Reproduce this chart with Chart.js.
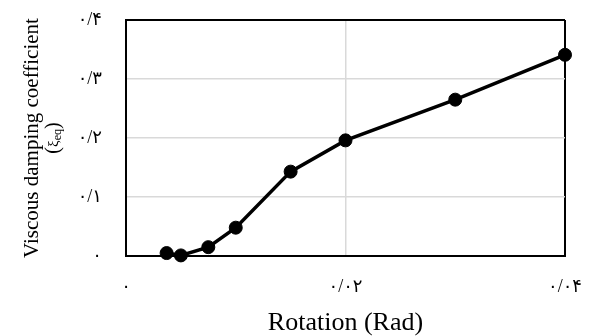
<!DOCTYPE html>
<html>
<head>
<meta charset="utf-8">
<script src="https://cdn.jsdelivr.net/npm/chart.js@4"></script>
<style>
html,body{margin:0;padding:0;background:#fff;}
#wrap{width:593px;height:336px;position:relative;}
</style>
</head>
<body>
<div id="wrap"><canvas id="c" width="593" height="336"></canvas></div>
<script>
// Data
const rotation = [0.0037, 0.005, 0.0075, 0.01, 0.015, 0.02, 0.03, 0.04];
const dampingCoeff = [0.005, 0.001, 0.015, 0.048, 0.143, 0.196, 0.265, 0.341];
const xTickValues = [0, 0.02, 0.04];
const xTickLabels = ['۰', '۰/۰۲', '۰/۰۴'];
const yTickValues = [0, 0.1, 0.2, 0.3, 0.4];
const yTickLabels = ['۰', '۰/۱', '۰/۲', '۰/۳', '۰/۴'];
const xTitle = 'Rotation (Rad)';
const yTitleLine1 = 'Viscous damping coefficient';
const yTitleOpen = '(';
const yTitleSymbol = 'ξ';
const yTitleSub = 'eq';
const yTitleClose = ')';

function labelFor(values, labels, v) {
  for (let i = 0; i < values.length; i++) {
    if (Math.abs(values[i] - v) < 1e-9) return labels[i];
  }
  return '';
}

const SERIF = '"Liberation Serif", "Times New Roman", serif';
const TICKFONT = '"Liberation Serif", "DejaVu Sans", serif';

const yTitlePlugin = {
  id: 'yTitle',
  afterDraw(chart) {
    const ctx = chart.ctx;
    const area = chart.chartArea;
    const cy = (area.top + area.bottom) / 2;
    ctx.save();
    ctx.fillStyle = '#000';
    // line 1
    ctx.save();
    ctx.translate(38, cy);
    ctx.rotate(-Math.PI / 2);
    ctx.font = '21px ' + SERIF;
    ctx.textAlign = 'center';
    ctx.textBaseline = 'alphabetic';
    ctx.fillText(yTitleLine1, 0, 0);
    ctx.restore();
    // line 2 with subscript
    ctx.save();
    ctx.translate(59, cy);
    ctx.rotate(-Math.PI / 2);
    ctx.textBaseline = 'alphabetic';
    const big = '20px ' + SERIF;
    const mid = '15px ' + SERIF;
    const small = '12px ' + SERIF;
    const parts = [
      [yTitleOpen, big, 0],
      [yTitleSymbol, mid, -1],
      [yTitleSub, small, 2],
      [yTitleClose, big, 0]
    ];
    let total = 0;
    const widths = parts.map(p => { ctx.font = p[1]; const w = ctx.measureText(p[0]).width; total += w; return w; });
    let x = -total / 2;
    ctx.textAlign = 'left';
    parts.forEach((p, i) => {
      ctx.font = p[1];
      ctx.fillText(p[0], x, p[2]);
      x += widths[i];
    });
    ctx.restore();
    ctx.restore();
  }
};

function spacedLabels(scale, spacing) {
  if (scale._spacedPatched) return;
  scale._spacedPatched = true;
  const orig = scale.drawLabels;
  scale.drawLabels = function (area) {
    const ctx = this.ctx;
    ctx.save();
    ctx.letterSpacing = spacing;
    orig.call(this, area);
    ctx.restore();
  };
}

const points = rotation.map((r, i) => ({ x: r, y: dampingCoeff[i] }));
const isEdge = (v, max) => v === 0 || Math.abs(v - max) < 1e-9;

new Chart(document.getElementById('c'), {
  type: 'line',
  data: {
    datasets: [{
      data: points,
      borderColor: '#000',
      backgroundColor: '#000',
      borderWidth: 3.5,
      pointRadius: 6.5,
      pointBackgroundColor: '#000',
      pointBorderColor: '#000',
      pointBorderWidth: 1,
      tension: 0,
      clip: false
    }]
  },
  options: {
    responsive: false,
    animation: false,
    devicePixelRatio: 1,
    layout: { padding: { left: 0, right: 28, top: 20, bottom: 0 } },
    plugins: { legend: { display: false }, tooltip: { enabled: false } },
    scales: {
      x: {
        type: 'linear',
        min: 0, max: 0.04,
        afterBuildTicks(scale) { scale.ticks = xTickValues.map(v => ({ value: v })); },
        afterFit(scale) {
          scale.height = 80;
          scale.paddingLeft = 0; scale.paddingRight = 0;
          spacedLabels(scale, '2.5px');
        },
        border: { display: true, color: '#000', width: 2 },
        grid: {
          drawTicks: false,
          color: ctx => (ctx.tick && isEdge(ctx.tick.value, 0.04)) ? '#000' : '#d9d9d9',
          lineWidth: ctx => (ctx.tick && isEdge(ctx.tick.value, 0.04)) ? 2 : 1.5
        },
        ticks: {
          padding: 20,
          color: '#000',
          font: { family: TICKFONT, size: 18 },
          maxRotation: 0,
          callback: v => labelFor(xTickValues, xTickLabels, v)
        },
        title: {
          display: true,
          text: xTitle,
          color: '#000',
          font: { family: SERIF, size: 26, lineHeight: 1 },
          padding: { top: 0, bottom: 0 }
        }
      },
      y: {
        type: 'linear',
        min: 0, max: 0.4,
        afterBuildTicks(scale) { scale.ticks = yTickValues.map(v => ({ value: v })); },
        afterFit(scale) {
          scale.width = 126;
          scale.paddingTop = 0; scale.paddingBottom = 0;
          spacedLabels(scale, '2px');
        },
        border: { display: true, color: '#000', width: 2 },
        grid: {
          drawTicks: false,
          color: ctx => (ctx.tick && isEdge(ctx.tick.value, 0.4)) ? '#000' : '#d9d9d9',
          lineWidth: ctx => (ctx.tick && isEdge(ctx.tick.value, 0.4)) ? 2 : 1.5
        },
        ticks: {
          padding: 24,
          color: '#000',
          font: { family: TICKFONT, size: 18 },
          callback: v => labelFor(yTickValues, yTickLabels, v)
        }
      }
    }
  },
  plugins: [yTitlePlugin]
});
</script>
</body>
</html>
